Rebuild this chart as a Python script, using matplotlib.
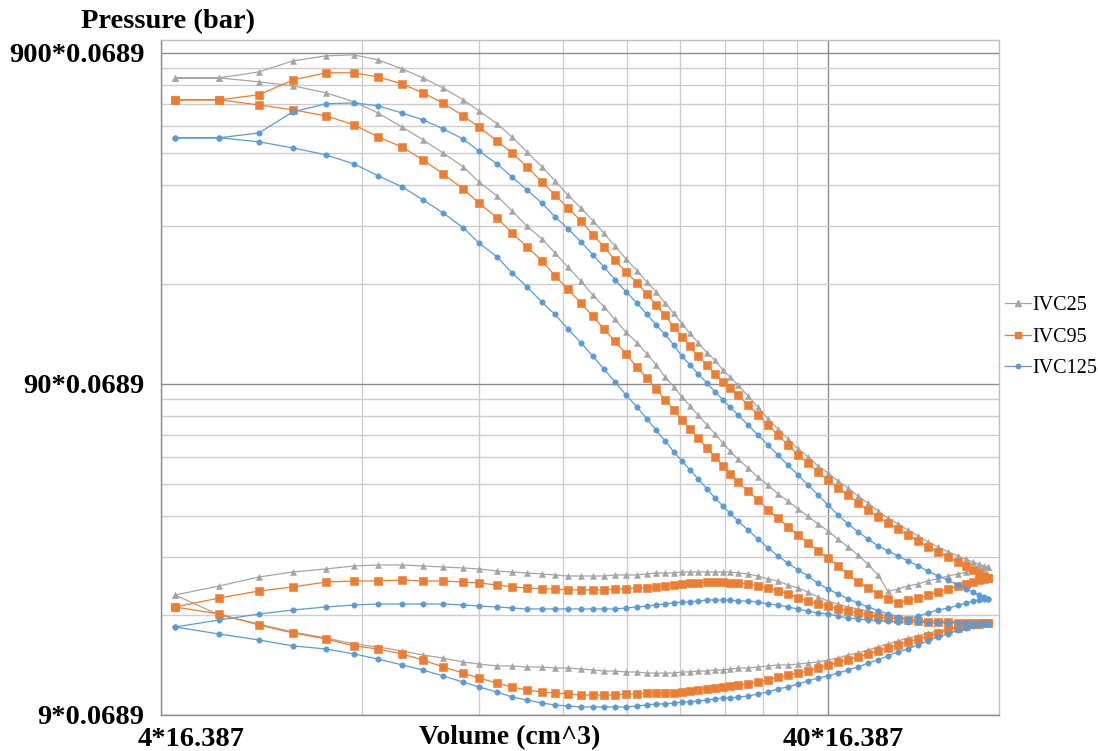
import numpy as np
import matplotlib
matplotlib.use("Agg")
import matplotlib.pyplot as plt
from matplotlib.ticker import FixedLocator, NullFormatter
from matplotlib.transforms import ScaledTranslation
from matplotlib.lines import Line2D

# Cylinder volume (in^3) at each sample, from TDC towards BDC
volume = [4.20, 4.89, 5.61, 6.31, 7.07, 7.79, 8.46, 9.19, 9.88, 10.59, 11.35, 11.99,
          12.76, 13.44, 14.15, 14.90, 15.59, 16.30, 17.05, 17.77, 18.46, 19.17, 19.92,
          20.69, 21.41, 22.09, 22.79, 23.50, 24.16, 24.84, 25.54, 26.34, 27.08, 27.84,
          28.52, 29.32, 30.35, 31.41, 32.52, 33.66, 34.84, 36.07, 37.33, 38.64, 40.00,
          41.41, 42.86, 44.37, 45.93, 47.54, 49.21, 50.93, 52.72, 54.58, 56.49, 58.48,
          60.53, 62.66, 64.41, 65.99, 67.37, 68.54, 69.49]

# Cylinder pressure (psi) on the volume grid above
ivc25_expansion = [757, 757, 789, 852, 882, 888, 858, 806, 757, 706, 650, 602, 550, 502,
                   452, 408, 370, 335, 306, 280, 257, 235, 215, 198, 183, 171, 158, 147,
                   137, 128, 120, 112, 106, 99.2, 94.5, 89.4, 82.8, 76.7, 70.6, 65.8,
                   61.4, 57.3, 54.2, 50.9, 48.5, 45.8, 43.7, 41.3, 39.3, 37.2, 35.4, 34.0,
                   32.6, 31.3, 30.0, 29.0, 28.0, 27.2, 26.6, 26.1, 25.7, 25.4, 25.2]
ivc25_compression = [757, 757, 736, 716, 682, 641, 593, 538, 492, 449, 408, 367, 333, 300,
                     270, 247, 224, 203, 184, 167, 154, 141, 129, 120, 111, 103, 94.5, 88.2,
                     82.3, 77.3, 72.6, 67.7, 63.6, 59.7, 56.5, 53.4, 50.2, 47.1, 44.6, 41.9,
                     39.9, 37.7, 35.9, 34.0, 32.4, 30.6, 29.0, 27.4, 25.7, 23.8, 21.3, 21.6,
                     22.1, 22.4, 22.9, 23.2, 23.7, 24.0, 24.3, 24.7, 24.9, 25.0, 25.2]
ivc25_exhaust = [20.74, 22.08, 23.51, 24.34, 24.86, 25.38, 25.56, 25.56, 25.38, 25.20, 25.03,
                 24.86, 24.51, 24.34, 24.17, 24.01, 23.84, 23.67, 23.67, 23.67, 23.67, 23.84,
                 23.84, 23.84, 24.01, 24.17, 24.17, 24.17, 24.34, 24.34, 24.34, 24.34, 24.34,
                 24.34, 24.34, 24.17, 24.01, 23.67, 23.18, 22.86, 22.24, 21.78, 21.18, 20.46,
                 19.89, 19.48, 19.08, 18.82, 18.56, 18.17, 17.92, 17.67, 17.55, 17.43, 17.31,
                 17.31, 17.31, 17.19, 17.19, 17.19, 17.19, 17.19, 17.19]
ivc25_intake = [20.74, 18.05, 16.95, 16.03, 15.38, 14.75, 14.45, 14.05, 13.66, 13.38, 13.01,
                12.83, 12.66, 12.66, 12.57, 12.57, 12.48, 12.48, 12.39, 12.31, 12.22, 12.22,
                12.14, 12.14, 12.05, 12.05, 12.05, 12.05, 12.14, 12.14, 12.22, 12.22, 12.31,
                12.31, 12.39, 12.48, 12.48, 12.57, 12.66, 12.75, 12.75, 12.83, 12.92, 13.01,
                13.20, 13.38, 13.66, 13.85, 14.15, 14.45, 14.75, 15.06, 15.38, 15.59, 15.92,
                16.15, 16.37, 16.60, 16.83, 16.95, 17.07, 17.07, 17.07]

ivc95_expansion = [650, 650, 673, 746, 784, 784, 762, 726, 682, 636, 581, 538, 488, 449,
                   408, 367, 335, 306, 280, 254, 234, 213, 196, 182, 168, 156, 145, 134,
                   125, 117, 109, 103, 96.5, 91.3, 87.6, 83.4, 77.8, 72.6, 67.7, 63.1,
                   58.9, 54.9, 52.0, 48.8, 46.2, 43.7, 41.6, 39.3, 37.5, 35.7, 34.2, 32.8,
                   31.5, 30.2, 29.0, 28.0, 27.0, 26.1, 25.4, 24.7, 24.2, 23.7, 23.3]
ivc95_compression = [650, 650, 627, 606, 581, 546, 502, 468, 428, 388, 350, 317, 286, 257,
                     234, 212, 191, 174, 158, 144, 132, 121, 111, 101, 93.9, 87.0, 80.6,
                     75.1, 70.1, 65.8, 61.8, 57.7, 54.2, 50.9, 48.1, 45.5, 42.8, 40.2, 37.5,
                     35.4, 33.3, 31.5, 29.8, 28.2, 26.8, 25.4, 24.0, 22.7, 21.8, 20.9, 20.2,
                     19.6, 20.0, 20.3, 20.7, 21.2, 21.6, 22.1, 22.4, 22.7, 23.0, 23.2, 23.3]
ivc95_exhaust = [19.08, 20.31, 21.33, 21.93, 22.70, 22.86, 22.86, 23.02, 22.86, 22.86, 22.70,
                 22.55, 22.24, 21.93, 21.78, 21.63, 21.63, 21.48, 21.48, 21.48, 21.48, 21.63,
                 21.63, 21.78, 21.78, 21.93, 22.08, 22.24, 22.39, 22.55, 22.55, 22.70, 22.70,
                 22.70, 22.55, 22.55, 22.39, 22.08, 21.78, 21.33, 20.89, 20.31, 19.89, 19.48,
                 19.21, 18.82, 18.56, 18.30, 18.05, 17.80, 17.67, 17.55, 17.43, 17.31, 17.19,
                 17.19, 17.19, 17.07, 17.07, 17.07, 17.07, 17.07, 17.07]
ivc95_intake = [19.08, 18.17, 16.83, 15.92, 15.27, 14.55, 14.25, 13.76, 13.20, 12.57, 12.05,
                11.64, 11.24, 10.94, 10.71, 10.56, 10.49, 10.42, 10.34, 10.34, 10.34, 10.34,
                10.42, 10.42, 10.49, 10.49, 10.49, 10.49, 10.56, 10.64, 10.71, 10.79, 10.86,
                10.94, 11.01, 11.09, 11.17, 11.32, 11.48, 11.72, 11.89, 12.05, 12.22, 12.48,
                12.75, 13.01, 13.20, 13.47, 13.76, 14.05, 14.35, 14.65, 14.96, 15.27, 15.59,
                15.92, 16.26, 16.49, 16.72, 16.95, 16.95, 17.07, 17.07]

ivc125_expansion = [499, 499, 516, 598, 632, 636, 623, 593, 565, 531, 495, 455, 416, 380,
                    347, 317, 288, 265, 242, 221, 203, 186, 171, 158, 146, 136, 127, 118,
                    109, 103, 96.5, 90.7, 85.2, 80.6, 76.7, 72.6, 67.7, 63.1, 58.9, 54.9,
                    51.2, 47.8, 44.6, 41.6, 38.8, 36.2, 34.0, 32.2, 30.6, 29.2, 28.2, 27.2,
                    26.3, 25.4, 24.5, 23.7, 23.0, 22.2, 21.6, 21.2, 20.7, 20.5, 20.2]
ivc125_compression = [499, 499, 485, 465, 443, 416, 383, 355, 324, 296, 267, 240, 218, 195,
                      177, 159, 146, 132, 120, 109, 99.9, 91.3, 83.4, 76.7, 70.6, 65.4, 60.6,
                      56.1, 52.7, 49.5, 46.5, 43.4, 40.7, 38.5, 36.7, 34.7, 32.6, 30.6, 28.8,
                      27.2, 25.9, 24.7, 23.7, 22.5, 21.6, 20.9, 20.2, 19.6, 19.1, 18.6, 18.2,
                      17.8, 17.6, 17.9, 18.3, 18.7, 18.9, 19.3, 19.6, 19.9, 20.0, 20.2, 20.2]
ivc125_exhaust = [16.60, 17.43, 18.17, 18.69, 19.08, 19.35, 19.48, 19.48, 19.48, 19.48, 19.35,
                  19.21, 19.08, 18.95, 18.82, 18.82, 18.82, 18.82, 18.82, 18.82, 18.82, 18.82,
                  18.95, 19.08, 19.21, 19.35, 19.48, 19.62, 19.76, 19.76, 19.89, 20.03, 20.03,
                  20.03, 20.03, 19.89, 19.89, 19.76, 19.48, 19.35, 19.08, 18.82, 18.56, 18.30,
                  18.17, 17.92, 17.67, 17.55, 17.43, 17.31, 17.31, 17.19, 17.19, 17.19, 17.07,
                  17.07, 17.07, 17.07, 17.07, 17.07, 17.07, 17.07, 17.07]
ivc125_intake = [16.60, 15.81, 15.17, 14.55, 14.25, 13.76, 13.29, 12.75, 12.31, 11.81, 11.32,
                 10.94, 10.56, 10.20, 9.99, 9.78, 9.65, 9.58, 9.52, 9.52, 9.52, 9.52, 9.52,
                 9.58, 9.65, 9.72, 9.72, 9.78, 9.85, 9.85, 9.92, 9.99, 10.06, 10.13, 10.13,
                 10.20, 10.27, 10.42, 10.56, 10.79, 10.94, 11.17, 11.40, 11.64, 11.81, 12.05,
                 12.31, 12.57, 12.92, 13.20, 13.57, 13.95, 14.25, 14.65, 15.06, 15.49, 15.81,
                 16.26, 16.49, 16.72, 16.83, 16.95, 16.95]

series_labels = ["IVC25", "IVC95", "IVC125"]
x_ticks = [4, 40]
x_tick_labels = ["4*16.387", "40*16.387"]
x_minor = [8, 12, 16, 20, 24, 28, 32, 36]
y_ticks = [9, 90, 900]
y_tick_labels = ["9*0.0689", "90*0.0689", "900*0.0689"]
y_minor = [18, 27, 36, 45, 54, 63, 72, 81, 180, 270, 360, 450, 540, 630, 720, 810]

strokes = [
    (ivc25_expansion, ivc25_compression, ivc25_exhaust, ivc25_intake),
    (ivc95_expansion, ivc95_compression, ivc95_exhaust, ivc95_intake),
    (ivc125_expansion, ivc125_compression, ivc125_exhaust, ivc125_intake),
]
styles = [
    dict(color="#A5A5A5", marker="^", markersize=4.6),
    dict(color="#ED7D31", marker="s", markersize=5.6),
    dict(color="#5B9BD5", marker="o", markersize=3.9),
]

serif = "Liberation Serif"
fig = plt.figure(figsize=(10.98, 7.51), dpi=100)
ax = fig.add_axes([161 / 1098, 1 - 715 / 751, (999 - 161) / 1098, (715 - 40) / 751])

vol = np.asarray(volume)
for (exp_p, comp_p, exh_p, int_p), st, lab in zip(strokes, styles, series_labels):
    # high-pressure loop then gas-exchange loop, separated by a gap
    xs = np.concatenate([vol, vol[::-1], [np.nan], vol, vol[::-1]])
    ys = np.concatenate([exp_p, comp_p[::-1], [np.nan], int_p, exh_p[::-1]])
    ax.plot(xs, ys, lw=0.9, color=st["color"], marker=st["marker"],
            markersize=st["markersize"], markeredgewidth=0.4,
            markeredgecolor=st["color"], label=lab, zorder=3)

ax.set_xscale("log")
ax.set_yscale("log")
ax.set_xlim(4, 72.2)
ax.set_ylim(9, 985)

ax.xaxis.set_major_locator(FixedLocator(x_ticks))
ax.xaxis.set_minor_locator(FixedLocator(x_minor))
ax.yaxis.set_major_locator(FixedLocator(y_ticks))
ax.yaxis.set_minor_locator(FixedLocator(y_minor))
ax.xaxis.set_minor_formatter(NullFormatter())
ax.yaxis.set_minor_formatter(NullFormatter())
ax.set_xticklabels(x_tick_labels)
ax.set_yticklabels(y_tick_labels)

ax.grid(which="major", color="#8C8C8C", lw=1.0, zorder=0)
ax.grid(which="minor", color="#CCCCCC", lw=1.0, zorder=0)
ax.set_axisbelow(True)
for sp in ax.spines.values():
    sp.set_color("#BFBFBF")
    sp.set_linewidth(1.0)
ax.spines["left"].set_color("#8C8C8C")
ax.spines["bottom"].set_color("#8C8C8C")

ax.tick_params(which="both", length=0)
ax.tick_params(axis="y", pad=12)
ax.tick_params(axis="x", pad=9)
for lbl in ax.get_yticklabels():
    lbl.set_fontfamily(serif)
    lbl.set_fontweight("bold")
    lbl.set_fontsize(20.5)
shifts = [0.30, 0.15]
for lbl, dx in zip(ax.get_xticklabels(), shifts):
    lbl.set_fontfamily(serif)
    lbl.set_fontweight("bold")
    lbl.set_fontsize(20.5)
    lbl.set_transform(lbl.get_transform() + ScaledTranslation(dx, 0, fig.dpi_scale_trans))

fig.text(168 / 1098, 1 - 22 / 751, "Pressure (bar)", ha="center", va="center",
         fontfamily=serif, fontweight="bold", fontsize=20.5)
fig.text(510 / 1098, 1 - 738 / 751, "Volume (cm^3)", ha="center", va="center",
         fontfamily=serif, fontweight="bold", fontsize=20)

handles = [Line2D([], [], color=st["color"], lw=0.9, marker=st["marker"],
                  markersize=st["markersize"] - 0.8) for st in styles]
fig.legend(handles, series_labels, loc="center left",
           bbox_to_anchor=(997 / 1098, 1 - 337 / 751), frameon=False,
           prop={"family": serif, "size": 14.5}, handlelength=1.3,
           handletextpad=0.05, labelspacing=0.6, borderaxespad=0)

fig.savefig("out.png", dpi=100)
